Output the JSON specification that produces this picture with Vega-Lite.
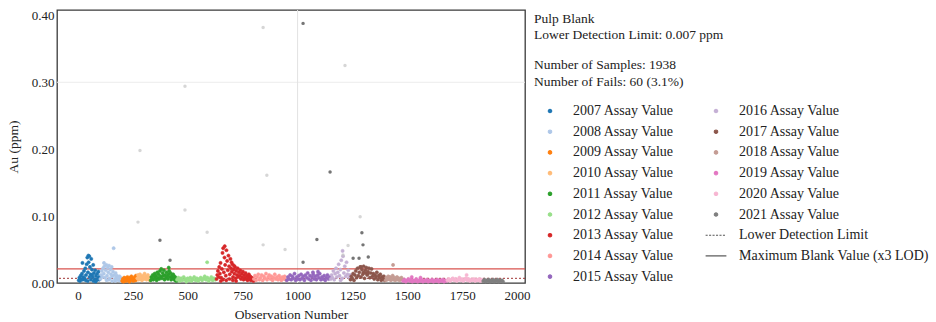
{
 "$schema": "https://vega.github.io/schema/vega-lite/v6.json",
 "width": 468,
 "height": 273,
 "autosize": {"type": "none"},
 "padding": {"left": 57, "top": 10, "right": 411, "bottom": 39},
 "background": "white",
 "config": {
  "font": "Liberation Serif",
  "view": {"stroke": "#3a3a3a", "strokeWidth": 1.3},
  "axis": {"labelFont": "Liberation Serif", "titleFont": "Liberation Serif", "labelFontSize": 13, "titleFontSize": 13.5, "titleFontWeight": "normal", "labelColor": "#222", "titleColor": "#222", "grid": false, "domain": false, "ticks": false}
 },
 "title": {"text": ["Pulp Blank", "Lower Detection Limit: 0.007 ppm"], "subtitle": ["Number of Samples: 1938", "Number of Fails: 60 (3.1%)"], "subtitlePadding": 17, "anchor": "start", "frame": "group", "orient": "top", "dx": 477, "dy": 79, "offset": 0, "baseline": "top", "align": "left", "font": "Liberation Serif", "fontSize": 13.5, "fontWeight": "normal", "color": "#222", "lineHeight": 15.5, "subtitleFont": "Liberation Serif", "subtitleFontSize": 13.5, "subtitleColor": "#222", "subtitleLineHeight": 16.7},
 "datasets": {
  "pts": [
{"n":3,"v":0.004,"yr":"2007"},{"n":6,"v":0.008,"yr":"2007"},{"n":9,"v":0.003,"yr":"2007"},{"n":12,"v":0.011,"yr":"2007"},{"n":15,"v":0.006,"yr":"2007"},{"n":18,"v":0.014,"yr":"2007"},{"n":21,"v":0.005,"yr":"2007"},{"n":24,"v":0.009,"yr":"2007"},{"n":27,"v":0.018,"yr":"2007"},{"n":30,"v":0.007,"yr":"2007"},{"n":33,"v":0.022,"yr":"2007"},{"n":36,"v":0.012,"yr":"2007"},{"n":39,"v":0.028,"yr":"2007"},{"n":42,"v":0.038,"yr":"2007"},{"n":45,"v":0.016,"yr":"2007"},{"n":48,"v":0.031,"yr":"2007"},{"n":51,"v":0.04,"yr":"2007"},{"n":54,"v":0.024,"yr":"2007"},{"n":57,"v":0.013,"yr":"2007"},{"n":60,"v":0.036,"yr":"2007"},{"n":63,"v":0.02,"yr":"2007"},{"n":66,"v":0.009,"yr":"2007"},{"n":69,"v":0.027,"yr":"2007"},{"n":72,"v":0.015,"yr":"2007"},{"n":75,"v":0.006,"yr":"2007"},{"n":78,"v":0.019,"yr":"2007"},{"n":81,"v":0.011,"yr":"2007"},{"n":84,"v":0.004,"yr":"2007"},{"n":87,"v":0.014,"yr":"2007"},{"n":90,"v":0.008,"yr":"2007"},{"n":93,"v":0.017,"yr":"2007"},{"n":96,"v":0.005,"yr":"2007"},{"n":99,"v":0.01,"yr":"2007"},{"n":44,"v":0.003,"yr":"2007"},{"n":58,"v":0.005,"yr":"2007"},{"n":70,"v":0.003,"yr":"2007"},{"n":35,"v":0.004,"yr":"2007"},{"n":80,"v":0.002,"yr":"2007"},{"n":52,"v":0.009,"yr":"2007"},{"n":64,"v":0.012,"yr":"2007"},{"n":20,"v":0.03,"yr":"2007"},{"n":47,"v":0.041,"yr":"2007"},
{"n":102,"v":0.006,"yr":"2008"},{"n":105,"v":0.012,"yr":"2008"},{"n":108,"v":0.018,"yr":"2008"},{"n":111,"v":0.009,"yr":"2008"},{"n":114,"v":0.022,"yr":"2008"},{"n":117,"v":0.014,"yr":"2008"},{"n":120,"v":0.025,"yr":"2008"},{"n":123,"v":0.008,"yr":"2008"},{"n":126,"v":0.019,"yr":"2008"},{"n":129,"v":0.027,"yr":"2008"},{"n":132,"v":0.011,"yr":"2008"},{"n":135,"v":0.023,"yr":"2008"},{"n":138,"v":0.016,"yr":"2008"},{"n":141,"v":0.026,"yr":"2008"},{"n":144,"v":0.007,"yr":"2008"},{"n":147,"v":0.02,"yr":"2008"},{"n":150,"v":0.013,"yr":"2008"},{"n":153,"v":0.024,"yr":"2008"},{"n":156,"v":0.01,"yr":"2008"},{"n":159,"v":0.017,"yr":"2008"},{"n":162,"v":0.052,"yr":"2008"},{"n":165,"v":0.012,"yr":"2008"},{"n":168,"v":0.006,"yr":"2008"},{"n":171,"v":0.015,"yr":"2008"},{"n":174,"v":0.009,"yr":"2008"},{"n":177,"v":0.011,"yr":"2008"},{"n":180,"v":0.005,"yr":"2008"},{"n":183,"v":0.008,"yr":"2008"},{"n":186,"v":0.004,"yr":"2008"},{"n":189,"v":0.01,"yr":"2008"},{"n":192,"v":0.006,"yr":"2008"},{"n":195,"v":0.003,"yr":"2008"},{"n":198,"v":0.007,"yr":"2008"},{"n":130,"v":0.004,"yr":"2008"},{"n":140,"v":0.005,"yr":"2008"},{"n":155,"v":0.003,"yr":"2008"},{"n":170,"v":0.003,"yr":"2008"},{"n":118,"v":0.03,"yr":"2008"},
{"n":201,"v":0.003,"yr":"2009"},{"n":204,"v":0.006,"yr":"2009"},{"n":207,"v":0.002,"yr":"2009"},{"n":210,"v":0.008,"yr":"2009"},{"n":213,"v":0.004,"yr":"2009"},{"n":216,"v":0.007,"yr":"2009"},{"n":219,"v":0.003,"yr":"2009"},{"n":222,"v":0.005,"yr":"2009"},{"n":225,"v":0.009,"yr":"2009"},{"n":228,"v":0.004,"yr":"2009"},{"n":231,"v":0.006,"yr":"2009"},{"n":234,"v":0.002,"yr":"2009"},{"n":237,"v":0.008,"yr":"2009"},{"n":240,"v":0.005,"yr":"2009"},{"n":243,"v":0.01,"yr":"2009"},{"n":246,"v":0.004,"yr":"2009"},{"n":249,"v":0.007,"yr":"2009"},{"n":252,"v":0.003,"yr":"2009"},{"n":255,"v":0.006,"yr":"2009"},{"n":258,"v":0.009,"yr":"2009"},{"n":261,"v":0.004,"yr":"2009"},{"n":264,"v":0.011,"yr":"2009"},{"n":267,"v":0.005,"yr":"2009"},
{"n":270,"v":0.007,"yr":"2010"},{"n":273,"v":0.012,"yr":"2010"},{"n":276,"v":0.005,"yr":"2010"},{"n":279,"v":0.009,"yr":"2010"},{"n":282,"v":0.013,"yr":"2010"},{"n":285,"v":0.006,"yr":"2010"},{"n":288,"v":0.01,"yr":"2010"},{"n":291,"v":0.004,"yr":"2010"},{"n":294,"v":0.008,"yr":"2010"},{"n":297,"v":0.011,"yr":"2010"},{"n":300,"v":0.006,"yr":"2010"},{"n":303,"v":0.014,"yr":"2010"},{"n":306,"v":0.007,"yr":"2010"},{"n":309,"v":0.01,"yr":"2010"},{"n":312,"v":0.005,"yr":"2010"},{"n":315,"v":0.009,"yr":"2010"},{"n":318,"v":0.012,"yr":"2010"},{"n":321,"v":0.006,"yr":"2010"},{"n":324,"v":0.008,"yr":"2010"},{"n":327,"v":0.004,"yr":"2010"},
{"n":331,"v":0.004,"yr":"2011"},{"n":334,"v":0.009,"yr":"2011"},{"n":337,"v":0.006,"yr":"2011"},{"n":340,"v":0.012,"yr":"2011"},{"n":343,"v":0.005,"yr":"2011"},{"n":346,"v":0.01,"yr":"2011"},{"n":349,"v":0.014,"yr":"2011"},{"n":352,"v":0.007,"yr":"2011"},{"n":355,"v":0.011,"yr":"2011"},{"n":358,"v":0.004,"yr":"2011"},{"n":361,"v":0.016,"yr":"2011"},{"n":364,"v":0.008,"yr":"2011"},{"n":367,"v":0.013,"yr":"2011"},{"n":370,"v":0.006,"yr":"2011"},{"n":373,"v":0.018,"yr":"2011"},{"n":376,"v":0.01,"yr":"2011"},{"n":379,"v":0.021,"yr":"2011"},{"n":382,"v":0.007,"yr":"2011"},{"n":385,"v":0.015,"yr":"2011"},{"n":388,"v":0.011,"yr":"2011"},{"n":391,"v":0.019,"yr":"2011"},{"n":394,"v":0.005,"yr":"2011"},{"n":397,"v":0.012,"yr":"2011"},{"n":400,"v":0.008,"yr":"2011"},{"n":403,"v":0.016,"yr":"2011"},{"n":406,"v":0.01,"yr":"2011"},{"n":409,"v":0.006,"yr":"2011"},{"n":412,"v":0.013,"yr":"2011"},{"n":415,"v":0.018,"yr":"2011"},{"n":418,"v":0.009,"yr":"2011"},{"n":421,"v":0.015,"yr":"2011"},{"n":424,"v":0.005,"yr":"2011"},{"n":427,"v":0.011,"yr":"2011"},{"n":430,"v":0.008,"yr":"2011"},{"n":433,"v":0.013,"yr":"2011"},{"n":436,"v":0.006,"yr":"2011"},{"n":439,"v":0.01,"yr":"2011"},{"n":442,"v":0.004,"yr":"2011"},{"n":445,"v":0.008,"yr":"2011"},{"n":448,"v":0.003,"yr":"2011"},{"n":413,"v":0.023,"yr":"2011"},
{"n":451,"v":0.005,"yr":"2012"},{"n":457,"v":0.008,"yr":"2012"},{"n":463,"v":0.003,"yr":"2012"},{"n":469,"v":0.007,"yr":"2012"},{"n":475,"v":0.004,"yr":"2012"},{"n":481,"v":0.009,"yr":"2012"},{"n":487,"v":0.005,"yr":"2012"},{"n":493,"v":0.002,"yr":"2012"},{"n":499,"v":0.007,"yr":"2012"},{"n":505,"v":0.004,"yr":"2012"},{"n":511,"v":0.008,"yr":"2012"},{"n":517,"v":0.003,"yr":"2012"},{"n":523,"v":0.006,"yr":"2012"},{"n":529,"v":0.009,"yr":"2012"},{"n":535,"v":0.004,"yr":"2012"},{"n":541,"v":0.007,"yr":"2012"},{"n":547,"v":0.003,"yr":"2012"},{"n":553,"v":0.006,"yr":"2012"},{"n":559,"v":0.008,"yr":"2012"},{"n":565,"v":0.004,"yr":"2012"},{"n":571,"v":0.007,"yr":"2012"},{"n":577,"v":0.01,"yr":"2012"},{"n":583,"v":0.005,"yr":"2012"},{"n":589,"v":0.008,"yr":"2012"},{"n":595,"v":0.003,"yr":"2012"},{"n":601,"v":0.006,"yr":"2012"},{"n":607,"v":0.009,"yr":"2012"},{"n":613,"v":0.004,"yr":"2012"},{"n":619,"v":0.007,"yr":"2012"},{"n":625,"v":0.005,"yr":"2012"},{"n":460,"v":0.006,"yr":"2012"},{"n":490,"v":0.006,"yr":"2012"},{"n":520,"v":0.005,"yr":"2012"},{"n":550,"v":0.005,"yr":"2012"},{"n":580,"v":0.006,"yr":"2012"},{"n":610,"v":0.006,"yr":"2012"},{"n":588,"v":0.031,"yr":"2012"},
{"n":631,"v":0.006,"yr":"2013"},{"n":634,"v":0.012,"yr":"2013"},{"n":637,"v":0.018,"yr":"2013"},{"n":640,"v":0.009,"yr":"2013"},{"n":643,"v":0.024,"yr":"2013"},{"n":646,"v":0.014,"yr":"2013"},{"n":649,"v":0.03,"yr":"2013"},{"n":652,"v":0.008,"yr":"2013"},{"n":655,"v":0.021,"yr":"2013"},{"n":658,"v":0.045,"yr":"2013"},{"n":661,"v":0.052,"yr":"2013"},{"n":664,"v":0.016,"yr":"2013"},{"n":667,"v":0.038,"yr":"2013"},{"n":670,"v":0.027,"yr":"2013"},{"n":673,"v":0.011,"yr":"2013"},{"n":676,"v":0.049,"yr":"2013"},{"n":679,"v":0.033,"yr":"2013"},{"n":682,"v":0.019,"yr":"2013"},{"n":685,"v":0.041,"yr":"2013"},{"n":688,"v":0.025,"yr":"2013"},{"n":691,"v":0.013,"yr":"2013"},{"n":694,"v":0.036,"yr":"2013"},{"n":697,"v":0.022,"yr":"2013"},{"n":700,"v":0.017,"yr":"2013"},{"n":703,"v":0.028,"yr":"2013"},{"n":706,"v":0.009,"yr":"2013"},{"n":709,"v":0.02,"yr":"2013"},{"n":712,"v":0.014,"yr":"2013"},{"n":715,"v":0.024,"yr":"2013"},{"n":718,"v":0.007,"yr":"2013"},{"n":721,"v":0.018,"yr":"2013"},{"n":724,"v":0.012,"yr":"2013"},{"n":727,"v":0.022,"yr":"2013"},{"n":730,"v":0.009,"yr":"2013"},{"n":733,"v":0.016,"yr":"2013"},{"n":736,"v":0.011,"yr":"2013"},{"n":739,"v":0.019,"yr":"2013"},{"n":742,"v":0.006,"yr":"2013"},{"n":745,"v":0.014,"yr":"2013"},{"n":748,"v":0.009,"yr":"2013"},{"n":751,"v":0.017,"yr":"2013"},{"n":754,"v":0.005,"yr":"2013"},{"n":757,"v":0.012,"yr":"2013"},{"n":760,"v":0.008,"yr":"2013"},{"n":763,"v":0.015,"yr":"2013"},{"n":766,"v":0.006,"yr":"2013"},{"n":769,"v":0.011,"yr":"2013"},{"n":772,"v":0.004,"yr":"2013"},{"n":775,"v":0.009,"yr":"2013"},{"n":778,"v":0.013,"yr":"2013"},{"n":781,"v":0.006,"yr":"2013"},{"n":784,"v":0.01,"yr":"2013"},{"n":787,"v":0.004,"yr":"2013"},{"n":790,"v":0.008,"yr":"2013"},{"n":793,"v":0.005,"yr":"2013"},{"n":796,"v":0.007,"yr":"2013"},{"n":799,"v":0.003,"yr":"2013"},{"n":660,"v":0.005,"yr":"2013"},{"n":675,"v":0.004,"yr":"2013"},{"n":690,"v":0.006,"yr":"2013"},{"n":705,"v":0.004,"yr":"2013"},{"n":720,"v":0.003,"yr":"2013"},{"n":650,"v":0.003,"yr":"2013"},{"n":668,"v":0.055,"yr":"2013"},{"n":699,"v":0.031,"yr":"2013"},{"n":710,"v":0.026,"yr":"2013"},
{"n":801,"v":0.006,"yr":"2014"},{"n":806,"v":0.011,"yr":"2014"},{"n":811,"v":0.004,"yr":"2014"},{"n":816,"v":0.009,"yr":"2014"},{"n":821,"v":0.013,"yr":"2014"},{"n":826,"v":0.005,"yr":"2014"},{"n":831,"v":0.008,"yr":"2014"},{"n":836,"v":0.012,"yr":"2014"},{"n":841,"v":0.004,"yr":"2014"},{"n":846,"v":0.01,"yr":"2014"},{"n":851,"v":0.007,"yr":"2014"},{"n":856,"v":0.014,"yr":"2014"},{"n":861,"v":0.005,"yr":"2014"},{"n":866,"v":0.009,"yr":"2014"},{"n":871,"v":0.012,"yr":"2014"},{"n":876,"v":0.006,"yr":"2014"},{"n":881,"v":0.01,"yr":"2014"},{"n":886,"v":0.004,"yr":"2014"},{"n":891,"v":0.008,"yr":"2014"},{"n":896,"v":0.013,"yr":"2014"},{"n":901,"v":0.006,"yr":"2014"},{"n":906,"v":0.009,"yr":"2014"},{"n":911,"v":0.005,"yr":"2014"},{"n":916,"v":0.011,"yr":"2014"},{"n":921,"v":0.007,"yr":"2014"},{"n":926,"v":0.004,"yr":"2014"},{"n":931,"v":0.009,"yr":"2014"},{"n":936,"v":0.006,"yr":"2014"},{"n":941,"v":0.01,"yr":"2014"},{"n":946,"v":0.005,"yr":"2014"},
{"n":951,"v":0.004,"yr":"2015"},{"n":956,"v":0.009,"yr":"2015"},{"n":961,"v":0.006,"yr":"2015"},{"n":966,"v":0.012,"yr":"2015"},{"n":971,"v":0.005,"yr":"2015"},{"n":976,"v":0.01,"yr":"2015"},{"n":981,"v":0.007,"yr":"2015"},{"n":986,"v":0.014,"yr":"2015"},{"n":991,"v":0.004,"yr":"2015"},{"n":996,"v":0.009,"yr":"2015"},{"n":1001,"v":0.006,"yr":"2015"},{"n":1006,"v":0.011,"yr":"2015"},{"n":1011,"v":0.005,"yr":"2015"},{"n":1016,"v":0.013,"yr":"2015"},{"n":1021,"v":0.007,"yr":"2015"},{"n":1026,"v":0.01,"yr":"2015"},{"n":1031,"v":0.004,"yr":"2015"},{"n":1036,"v":0.012,"yr":"2015"},{"n":1041,"v":0.008,"yr":"2015"},{"n":1046,"v":0.015,"yr":"2015"},{"n":1051,"v":0.006,"yr":"2015"},{"n":1056,"v":0.011,"yr":"2015"},{"n":1061,"v":0.004,"yr":"2015"},{"n":1066,"v":0.009,"yr":"2015"},{"n":1071,"v":0.013,"yr":"2015"},{"n":1076,"v":0.006,"yr":"2015"},{"n":1081,"v":0.01,"yr":"2015"},{"n":1086,"v":0.005,"yr":"2015"},{"n":1091,"v":0.012,"yr":"2015"},{"n":1096,"v":0.008,"yr":"2015"},{"n":1101,"v":0.014,"yr":"2015"},{"n":1106,"v":0.005,"yr":"2015"},{"n":1111,"v":0.009,"yr":"2015"},{"n":1116,"v":0.006,"yr":"2015"},{"n":1121,"v":0.011,"yr":"2015"},{"n":1126,"v":0.004,"yr":"2015"},{"n":1131,"v":0.008,"yr":"2015"},{"n":1136,"v":0.012,"yr":"2015"},{"n":1141,"v":0.006,"yr":"2015"},{"n":1146,"v":0.009,"yr":"2015"},{"n":1093,"v":0.017,"yr":"2015"},{"n":1070,"v":0.016,"yr":"2015"},
{"n":1151,"v":0.006,"yr":"2016"},{"n":1155,"v":0.012,"yr":"2016"},{"n":1159,"v":0.008,"yr":"2016"},{"n":1163,"v":0.018,"yr":"2016"},{"n":1167,"v":0.005,"yr":"2016"},{"n":1171,"v":0.014,"yr":"2016"},{"n":1175,"v":0.022,"yr":"2016"},{"n":1179,"v":0.009,"yr":"2016"},{"n":1183,"v":0.016,"yr":"2016"},{"n":1187,"v":0.028,"yr":"2016"},{"n":1191,"v":0.011,"yr":"2016"},{"n":1195,"v":0.02,"yr":"2016"},{"n":1199,"v":0.034,"yr":"2016"},{"n":1203,"v":0.007,"yr":"2016"},{"n":1207,"v":0.04,"yr":"2016"},{"n":1211,"v":0.015,"yr":"2016"},{"n":1215,"v":0.025,"yr":"2016"},{"n":1219,"v":0.01,"yr":"2016"},{"n":1223,"v":0.031,"yr":"2016"},{"n":1227,"v":0.013,"yr":"2016"},{"n":1231,"v":0.019,"yr":"2016"},{"n":1235,"v":0.008,"yr":"2016"},{"n":1239,"v":0.012,"yr":"2016"},{"n":1205,"v":0.048,"yr":"2016"},{"n":1196,"v":0.004,"yr":"2016"},
{"n":1241,"v":0.005,"yr":"2017"},{"n":1245,"v":0.01,"yr":"2017"},{"n":1249,"v":0.007,"yr":"2017"},{"n":1253,"v":0.014,"yr":"2017"},{"n":1257,"v":0.004,"yr":"2017"},{"n":1261,"v":0.012,"yr":"2017"},{"n":1265,"v":0.018,"yr":"2017"},{"n":1269,"v":0.008,"yr":"2017"},{"n":1273,"v":0.022,"yr":"2017"},{"n":1277,"v":0.011,"yr":"2017"},{"n":1281,"v":0.016,"yr":"2017"},{"n":1285,"v":0.024,"yr":"2017"},{"n":1289,"v":0.009,"yr":"2017"},{"n":1293,"v":0.02,"yr":"2017"},{"n":1297,"v":0.013,"yr":"2017"},{"n":1301,"v":0.025,"yr":"2017"},{"n":1305,"v":0.007,"yr":"2017"},{"n":1309,"v":0.019,"yr":"2017"},{"n":1313,"v":0.023,"yr":"2017"},{"n":1317,"v":0.012,"yr":"2017"},{"n":1321,"v":0.017,"yr":"2017"},{"n":1325,"v":0.022,"yr":"2017"},{"n":1329,"v":0.008,"yr":"2017"},{"n":1333,"v":0.015,"yr":"2017"},{"n":1337,"v":0.021,"yr":"2017"},{"n":1341,"v":0.01,"yr":"2017"},{"n":1345,"v":0.014,"yr":"2017"},{"n":1349,"v":0.006,"yr":"2017"},{"n":1353,"v":0.012,"yr":"2017"},{"n":1357,"v":0.009,"yr":"2017"},{"n":1361,"v":0.016,"yr":"2017"},{"n":1365,"v":0.005,"yr":"2017"},{"n":1369,"v":0.011,"yr":"2017"},{"n":1373,"v":0.008,"yr":"2017"},{"n":1377,"v":0.013,"yr":"2017"},{"n":1381,"v":0.004,"yr":"2017"},{"n":1385,"v":0.009,"yr":"2017"},{"n":1389,"v":0.006,"yr":"2017"},{"n":1393,"v":0.01,"yr":"2017"},{"n":1397,"v":0.004,"yr":"2017"},{"n":1300,"v":0.016,"yr":"2017"},{"n":1310,"v":0.015,"yr":"2017"},{"n":1320,"v":0.014,"yr":"2017"},{"n":1290,"v":0.024,"yr":"2017"},
{"n":1401,"v":0.004,"yr":"2018"},{"n":1405,"v":0.008,"yr":"2018"},{"n":1409,"v":0.005,"yr":"2018"},{"n":1413,"v":0.01,"yr":"2018"},{"n":1417,"v":0.006,"yr":"2018"},{"n":1421,"v":0.009,"yr":"2018"},{"n":1425,"v":0.004,"yr":"2018"},{"n":1429,"v":0.007,"yr":"2018"},{"n":1433,"v":0.011,"yr":"2018"},{"n":1437,"v":0.005,"yr":"2018"},{"n":1441,"v":0.008,"yr":"2018"},{"n":1445,"v":0.004,"yr":"2018"},{"n":1449,"v":0.006,"yr":"2018"},{"n":1453,"v":0.009,"yr":"2018"},{"n":1457,"v":0.005,"yr":"2018"},{"n":1461,"v":0.007,"yr":"2018"},{"n":1465,"v":0.004,"yr":"2018"},{"n":1469,"v":0.006,"yr":"2018"},{"n":1473,"v":0.008,"yr":"2018"},{"n":1477,"v":0.005,"yr":"2018"},{"n":1435,"v":0.027,"yr":"2018"},
{"n":1481,"v":0.003,"yr":"2019"},{"n":1487,"v":0.005,"yr":"2019"},{"n":1493,"v":0.002,"yr":"2019"},{"n":1499,"v":0.004,"yr":"2019"},{"n":1505,"v":0.006,"yr":"2019"},{"n":1511,"v":0.003,"yr":"2019"},{"n":1517,"v":0.005,"yr":"2019"},{"n":1523,"v":0.002,"yr":"2019"},{"n":1529,"v":0.004,"yr":"2019"},{"n":1535,"v":0.003,"yr":"2019"},{"n":1541,"v":0.006,"yr":"2019"},{"n":1547,"v":0.002,"yr":"2019"},{"n":1553,"v":0.004,"yr":"2019"},{"n":1559,"v":0.003,"yr":"2019"},{"n":1565,"v":0.005,"yr":"2019"},{"n":1571,"v":0.002,"yr":"2019"},{"n":1577,"v":0.004,"yr":"2019"},{"n":1583,"v":0.003,"yr":"2019"},{"n":1589,"v":0.005,"yr":"2019"},{"n":1595,"v":0.002,"yr":"2019"},{"n":1601,"v":0.004,"yr":"2019"},{"n":1607,"v":0.003,"yr":"2019"},{"n":1613,"v":0.005,"yr":"2019"},{"n":1619,"v":0.002,"yr":"2019"},{"n":1625,"v":0.004,"yr":"2019"},{"n":1631,"v":0.003,"yr":"2019"},{"n":1637,"v":0.005,"yr":"2019"},{"n":1643,"v":0.002,"yr":"2019"},{"n":1649,"v":0.004,"yr":"2019"},{"n":1655,"v":0.003,"yr":"2019"},{"n":1661,"v":0.005,"yr":"2019"},{"n":1667,"v":0.002,"yr":"2019"},{"n":1673,"v":0.004,"yr":"2019"},{"n":1679,"v":0.003,"yr":"2019"},{"n":1520,"v":0.009,"yr":"2019"},{"n":1560,"v":0.008,"yr":"2019"},
{"n":1683,"v":0.004,"yr":"2020"},{"n":1689,"v":0.006,"yr":"2020"},{"n":1695,"v":0.003,"yr":"2020"},{"n":1701,"v":0.005,"yr":"2020"},{"n":1707,"v":0.007,"yr":"2020"},{"n":1713,"v":0.004,"yr":"2020"},{"n":1719,"v":0.006,"yr":"2020"},{"n":1725,"v":0.003,"yr":"2020"},{"n":1731,"v":0.005,"yr":"2020"},{"n":1737,"v":0.008,"yr":"2020"},{"n":1743,"v":0.004,"yr":"2020"},{"n":1749,"v":0.006,"yr":"2020"},{"n":1755,"v":0.003,"yr":"2020"},{"n":1761,"v":0.005,"yr":"2020"},{"n":1767,"v":0.007,"yr":"2020"},{"n":1773,"v":0.004,"yr":"2020"},{"n":1779,"v":0.006,"yr":"2020"},{"n":1785,"v":0.003,"yr":"2020"},{"n":1791,"v":0.005,"yr":"2020"},{"n":1797,"v":0.004,"yr":"2020"},{"n":1803,"v":0.006,"yr":"2020"},{"n":1809,"v":0.003,"yr":"2020"},{"n":1815,"v":0.005,"yr":"2020"},{"n":1821,"v":0.004,"yr":"2020"},{"n":1827,"v":0.006,"yr":"2020"},{"n":1833,"v":0.003,"yr":"2020"},{"n":1839,"v":0.005,"yr":"2020"},{"n":1770,"v":0.012,"yr":"2020"},
{"n":1846,"v":0.003,"yr":"2021"},{"n":1851,"v":0.005,"yr":"2021"},{"n":1856,"v":0.002,"yr":"2021"},{"n":1861,"v":0.004,"yr":"2021"},{"n":1866,"v":0.003,"yr":"2021"},{"n":1871,"v":0.005,"yr":"2021"},{"n":1876,"v":0.002,"yr":"2021"},{"n":1881,"v":0.004,"yr":"2021"},{"n":1886,"v":0.003,"yr":"2021"},{"n":1891,"v":0.005,"yr":"2021"},{"n":1896,"v":0.002,"yr":"2021"},{"n":1901,"v":0.004,"yr":"2021"},{"n":1906,"v":0.003,"yr":"2021"},{"n":1911,"v":0.005,"yr":"2021"},{"n":1916,"v":0.002,"yr":"2021"},{"n":1921,"v":0.004,"yr":"2021"},{"n":1926,"v":0.003,"yr":"2021"},{"n":1931,"v":0.004,"yr":"2021"},{"n":1936,"v":0.002,"yr":"2021"}
  ],
  "darkOut": [
{"n":1025,"v":0.388},{"n":1148,"v":0.166},{"n":373,"v":0.064},{"n":419,"v":0.034},{"n":1088,"v":0.065},{"n":1025,"v":0.031},{"n":1293,"v":0.075},{"n":1298,"v":0.057},{"n":1253,"v":0.037},{"n":1280,"v":0.037},{"n":1322,"v":0.039}
  ],
  "lightOut": [
{"n":843,"v":0.382},{"n":487,"v":0.294},{"n":1216,"v":0.325},{"n":282,"v":0.198},{"n":860,"v":0.161},{"n":487,"v":0.109},{"n":273,"v":0.091},{"n":588,"v":0.076},{"n":843,"v":0.057},{"n":943,"v":0.05},{"n":1285,"v":0.099},{"n":1207,"v":0.042},{"n":1230,"v":0.056}
  ]
 },
 "layer": [
  {"data": {"values": [{"v": 0.3}]}, "mark": {"type": "rule", "color": "#ececec", "strokeWidth": 1}, "encoding": {"y": {"field": "v", "type": "quantitative", "scale": {"domain": [0, 0.408], "nice": false}}}},
  {"data": {"values": [{"n": 1000}]}, "mark": {"type": "rule", "color": "#e2e2e2", "strokeWidth": 1}, "encoding": {"x": {"field": "n", "type": "quantitative", "scale": {"domain": [-96, 2036], "nice": false}}}},
  {"data": {"values": [{"v": 0.007}]}, "mark": {"type": "rule", "color": "#a03535", "strokeWidth": 1, "strokeDash": [2, 2]}, "encoding": {"y": {"field": "v", "type": "quantitative"}}},
  {"data": {"values": [{"v": 0.021}]}, "mark": {"type": "rule", "color": "#d9534f", "strokeWidth": 1.2}, "encoding": {"y": {"field": "v", "type": "quantitative"}}},
  {"data": {"name": "pts"}, "mark": {"type": "point", "filled": true, "size": 10, "opacity": 1, "strokeWidth": 0.6},
   "encoding": {
    "x": {"field": "n", "type": "quantitative", "scale": {"domain": [-96, 2036], "nice": false}, "axis": {"values": [0, 250, 500, 750, 1000, 1250, 1500, 1750, 2000], "format": "d", "title": "Observation Number", "labelPadding": 6, "titlePadding": 5}},
    "y": {"field": "v", "type": "quantitative", "scale": {"domain": [0, 0.408], "nice": false}, "axis": {"values": [0, 0.05, 0.1, 0.15, 0.2, 0.25, 0.3, 0.35, 0.4], "format": ".2f", "title": "Au (ppm)", "labelPadding": 3, "titlePadding": 11}},
    "color": {"field": "yr", "type": "nominal",
     "scale": {"domain": ["2007", "2008", "2009", "2010", "2011", "2012", "2013", "2014", "2015", "2016", "2017", "2018", "2019", "2020", "2021", "Lower Detection Limit", "Maximum Blank Value (x3 LOD)"],
      "range": ["#1f77b4", "#aec7e8", "#ff7f0e", "#ffbb78", "#2ca02c", "#98df8a", "#d62728", "#ff9896", "#9467bd", "#c5b0d5", "#8c564b", "#c49c94", "#e377c2", "#f7b6d2", "#7f7f7f", "#ffffff", "#ffffff"]},
     "legend": {"orient": "none", "legendX": 486, "legendY": 94, "columns": 2, "title": null, "padding": 0, "labelFont": "Liberation Serif", "labelFontSize": 14, "labelColor": "#222", "labelLimit": 260, "symbolSize": 12, "symbolStrokeWidth": 1.1, "rowPadding": 6.7, "columnPadding": 28, "labelOffset": 16, "labelExpr": "length(datum.label) == 4 ? datum.label + ' Assay Value' : datum.label"}},
    "stroke": {"field": "yr", "type": "nominal",
     "scale": {"domain": ["2007", "2008", "2009", "2010", "2011", "2012", "2013", "2014", "2015", "2016", "2017", "2018", "2019", "2020", "2021", "Lower Detection Limit", "Maximum Blank Value (x3 LOD)"],
      "range": ["#1f77b4", "#aec7e8", "#ff7f0e", "#ffbb78", "#2ca02c", "#98df8a", "#d62728", "#ff9896", "#9467bd", "#c5b0d5", "#8c564b", "#c49c94", "#e377c2", "#f7b6d2", "#7f7f7f", "#555555", "#444444"]}},
    "shape": {"field": "yr", "type": "nominal",
     "scale": {"domain": ["2007", "2008", "2009", "2010", "2011", "2012", "2013", "2014", "2015", "2016", "2017", "2018", "2019", "2020", "2021", "Lower Detection Limit", "Maximum Blank Value (x3 LOD)"],
      "range": ["circle", "circle", "circle", "circle", "circle", "circle", "circle", "circle", "circle", "circle", "circle", "circle", "circle", "circle", "circle", "M-6,0H-4.8M-4,0H-2.8M-2,0H-0.8M0,0H1.2M2,0H3.2M4,0H5.2", "M-6,0H6"]}}
   }},
  {"data": {"name": "lightOut"}, "mark": {"type": "point", "filled": true, "size": 12, "color": "#c4c4c4"}, "encoding": {"x": {"field": "n", "type": "quantitative"}, "y": {"field": "v", "type": "quantitative"}}},
  {"data": {"name": "darkOut"}, "mark": {"type": "point", "filled": true, "size": 12, "color": "#3a3a3a"}, "encoding": {"x": {"field": "n", "type": "quantitative"}, "y": {"field": "v", "type": "quantitative"}}}
 ]
}
